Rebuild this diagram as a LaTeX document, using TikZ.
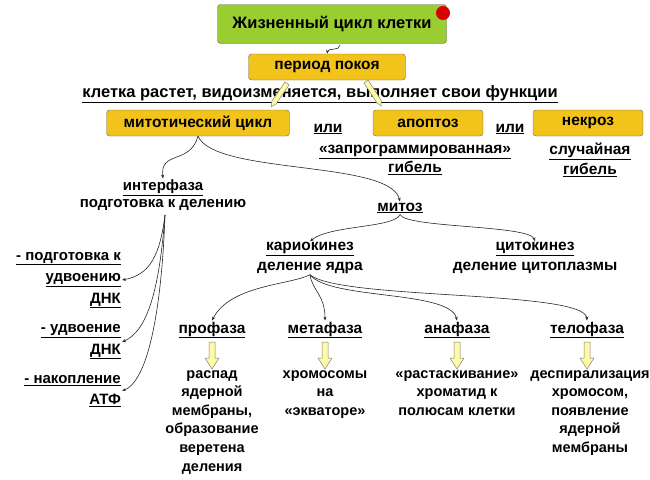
\documentclass[tikz,border=0pt]{standalone}
\usepackage{fontspec}
\setmainfont{Liberation Sans}
\usetikzlibrary{arrows.meta}
\newcommand\ulx[1]{\underline{#1}}
\definecolor{boxy}{HTML}{F2C31A}
\definecolor{boxg}{HTML}{9ACD32}
\begin{document}
\begin{tikzpicture}[x=1pt,y=-1pt,
  every node/.style={font=\fontsize{15.5}{19.5}\selectfont\bfseries, inner sep=1pt},
  box/.style={draw=black!60, rounded corners=3pt, fill=boxy, minimum height=26pt},
  con/.style={-{Stealth[length=4pt]}, black!85, line width=0.6pt},
  pen/.style={draw=black!50, fill=yellow!35, line width=0.5pt},
  tx/.style={align=center},
  big/.style={font=\fontsize{16.5}{19.5}\selectfont\bfseries},
  desc/.style={align=center, anchor=north, font=\fontsize{14.5}{18.6}\selectfont\bfseries},
  lft/.style={align=right, anchor=east, font=\fontsize{15}{21.5}\selectfont\bfseries}]
\useasboundingbox (0,0) rectangle (650,479);
\node[box, big, fill=boxg, minimum width=229pt, minimum height=39pt] (title) at (332,24) {Жизненный цикл клетки};
\fill[red!85!black] (443,13) circle (7);
\node[box, minimum width=157pt] (rest) at (327,67) {период покоя};
\node[big] (grow) at (320,94) {\ulx{клетка растет, видоизменяется, выполняет свои функции}};
\node[box, minimum width=183pt] (mit) at (198,123) {митотический цикл};
\node[box, minimum width=110pt] (apo) at (428,123) {апоптоз};
\node[box, minimum width=110pt] (nec) at (588,123) {некроз};
\node (or1) at (328,129) {\ulx{или}};
\node (or2) at (510,129) {\ulx{или}};
\node[tx] (prog) at (415,160) {\ulx{«запрограммированная»}\\\ulx{гибель}};
\node[tx] (rand) at (590,160) {\ulx{случайная}\\\ulx{гибель}};
\node[tx, font=\fontsize{15}{16.5}\selectfont\bfseries] (inter) at (163,195) {\ulx{интерфаза}\\подготовка к делению};
\node (mitoz) at (400,208) {\ulx{митоз}};
\node[tx] (kario) at (310,258) {\ulx{кариокинез}\\деление ядра};
\node[tx] (cito) at (535,258) {\ulx{цитокинез}\\деление цитоплазмы};
\node[lft] (l1) at (122,280) {\ulx{- подготовка к}\\\ulx{удвоению}\\\ulx{ДНК}};
\node[lft] (l2) at (122,342) {\ulx{- удвоение}\\\ulx{ДНК}};
\node[lft] (l3) at (122,391) {\ulx{- накопление}\\\ulx{АТФ}};
\node (pro) at (212,330) {\ulx{профаза}};
\node (meta) at (325,330) {\ulx{метафаза}};
\node (ana) at (457,330) {\ulx{анафаза}};
\node (telo) at (587,330) {\ulx{телофаза}};
\node[desc] (dpro) at (212,369) {распад\\ядерной\\мембраны,\\образование\\веретена\\деления};
\node[desc] (dmeta) at (325,369) {хромосомы\\на\\«экваторе»};
\node[desc] (dana) at (457,369) {«растаскивание»\\хроматид к\\полюсам клетки};
\node[desc] (dtelo) at (590,369) {деспирализация\\хромосом,\\появление\\ядерной\\мембраны};
% yellow block arrows
\foreach \x in {212,325,457,587}{
  \draw[pen] (\x-3,342) -- (\x+3,342) -- (\x+3,358) -- (\x+7,358) -- (\x,369) -- (\x-7,358) -- (\x-3,358) -- cycle;
}
% pencil arrows
\draw[pen] (285,82) -- (289,85) -- (276,104) -- (271,107) -- (272,101) -- cycle;
\draw[pen] (364,83) -- (368,80) -- (381,100) -- (381,106) -- (377,103) -- cycle;
% connectors
\draw[con] (340,45) to[out=-90,in=80] (rest.north);
\draw[con] (mit.south) .. controls (190,165) and (160,150) .. (inter.north);
\draw[con] (mit.south) .. controls (215,175) and (390,160) .. (mitoz.north);
\draw[con] (mitoz.south) .. controls (395,228) and (330,225) .. (kario.north);
\draw[con] (mitoz.south) .. controls (405,228) and (530,225) .. (cito.north);
\draw[con] (165,215) .. controls (160,255) and (150,275) .. (l1.east);
\draw[con] (165,215) .. controls (160,280) and (150,330) .. (l2.east);
\draw[con] (165,215) .. controls (162,300) and (150,380) .. (l3.east);
\draw[con] (kario.south) .. controls (290,285) and (230,285) .. (pro.north);
\draw[con] (kario.south) .. controls (312,290) and (325,295) .. (meta.north);
\draw[con] (kario.south) .. controls (330,300) and (450,290) .. (ana.north);
\draw[con] (kario.south) .. controls (340,300) and (585,290) .. (telo.north);
\end{tikzpicture}
\end{document}
